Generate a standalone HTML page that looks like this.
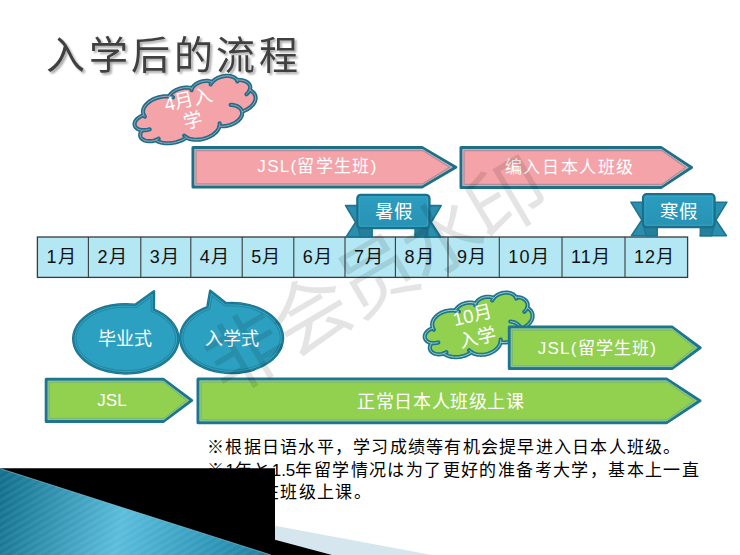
<!DOCTYPE html><html lang="zh-CN"><head><meta charset="utf-8"><style>html,body{margin:0;padding:0;width:740px;height:555px;overflow:hidden;background:#fff;}body{position:relative;font-family:"Liberation Sans",sans-serif;}</style></head><body><svg width="740" height="555" viewBox="0 0 740 555" style="position:absolute;left:0;top:0;font-family:'Liberation Sans',sans-serif"><defs><linearGradient id="rib" x1="0" y1="0" x2="0" y2="1"><stop offset="0" stop-color="#2B9DC0"/><stop offset="1" stop-color="#2892B3"/></linearGradient><linearGradient id="btl" x1="0" y1="0" x2="1" y2="0.35"><stop offset="0" stop-color="#126C8A"/><stop offset="0.6" stop-color="#52B6D6"/><stop offset="1" stop-color="#45AACB"/></linearGradient><pattern id="stripes" width="6" height="6" patternUnits="userSpaceOnUse" patternTransform="rotate(60)"><rect width="3" height="6" fill="rgba(255,255,255,0.06)"/></pattern><filter id="tsh" x="-10%" y="-10%" width="130%" height="140%"><feGaussianBlur in="SourceAlpha" stdDeviation="1.3"/><feOffset dx="2" dy="2"/><feComponentTransfer><feFuncA type="linear" slope="0.35"/></feComponentTransfer><feMerge><feMergeNode/><feMergeNode in="SourceGraphic"/></feMerge></filter></defs><path d="M275,525.7 L432,555 L275,555 Z" fill="#D6E6EE"/><path d="M275,539.7 L332,555 L275,555 Z" fill="#000"/><rect x="0" y="468.5" width="275" height="86.5" fill="#000"/><path d="M0,468.5 L271,555 L0,555 Z" fill="url(#btl)"/><path d="M0,468.5 L271,555 L0,555 Z" fill="url(#stripes)"/><text x="46" y="69" font-size="39" letter-spacing="3.6" fill="#3F3F3F" font-weight="500" filter="url(#tsh)">入学后的流程</text><path d="M193.00,147.50 L422.00,147.50 L455.77,167.20 L422.00,186.90 L193.00,186.90 Z" fill="#F4A3A8" stroke="#1F6F86" stroke-width="3.0" stroke-linejoin="round"/><path d="M195.00,149.50 L422.53,149.50 L451.73,167.20 L422.53,184.90 L195.00,184.90 Z" fill="none" stroke="#A9BDCB" stroke-width="1"/><path d="M196.10,150.60 L422.82,150.60 L449.51,167.20 L422.82,183.80 L196.10,183.80 Z" fill="none" stroke="#B48C97" stroke-width="1.2"/><path d="M461.00,147.50 L660.94,147.50 L691.51,167.50 L660.94,187.50 L461.00,187.50 Z" fill="#F4A3A8" stroke="#1F6F86" stroke-width="3.0" stroke-linejoin="round"/><path d="M463.00,149.50 L661.52,149.50 L687.78,167.50 L661.52,185.50 L463.00,185.50 Z" fill="none" stroke="#A9BDCB" stroke-width="1"/><path d="M464.10,150.60 L661.84,150.60 L685.73,167.50 L661.84,184.40 L464.10,184.40 Z" fill="none" stroke="#B48C97" stroke-width="1.2"/><text x="317.5" y="172" font-size="17" fill="#fff" text-anchor="middle" letter-spacing="1.3">JSL(留学生班)</text><text x="570" y="172.5" font-size="17" fill="#fff" text-anchor="middle" letter-spacing="1.6">编入日本人班级</text><g transform="translate(195.35,111.8) rotate(-14) translate(-62.0,-28.0)"><path d="M11.19,18.63 L11.03,17.52 11.04,16.41 11.22,15.31 11.56,14.22 12.07,13.15 12.73,12.12 13.55,11.13 14.51,10.20 15.62,9.32 16.85,8.51 18.20,7.77 19.65,7.11 21.20,6.54 22.82,6.06 24.52,5.67 26.26,5.38 28.04,5.20 29.84,5.11 31.64,5.13 33.44,5.26 35.21,5.48 36.93,5.81 38.60,6.23 40.20,6.74 L40.80,6.11 41.47,5.51 42.22,4.95 43.03,4.42 43.92,3.93 44.86,3.48 45.85,3.08 46.89,2.73 47.97,2.43 49.09,2.18 50.23,1.99 51.39,1.85 52.57,1.77 53.76,1.74 54.94,1.77 56.12,1.86 57.28,2.00 58.42,2.20 59.54,2.45 60.62,2.75 61.65,3.11 62.64,3.51 63.58,3.96 64.46,4.45 L64.97,3.88 65.56,3.34 66.22,2.83 66.95,2.36 67.73,1.92 68.58,1.53 69.48,1.19 70.42,0.89 71.40,0.64 72.41,0.45 73.44,0.31 74.49,0.22 75.54,0.18 76.60,0.20 77.65,0.28 78.69,0.41 79.70,0.59 80.69,0.83 81.64,1.11 82.55,1.45 83.41,1.83 84.21,2.25 84.96,2.72 85.63,3.22 L86.53,2.63 87.51,2.09 88.57,1.62 89.69,1.20 90.88,0.86 92.11,0.58 93.38,0.38 94.68,0.25 95.99,0.20 97.30,0.22 98.60,0.32 99.88,0.49 101.13,0.73 102.34,1.05 103.49,1.43 104.58,1.88 105.60,2.39 106.53,2.96 107.37,3.58 108.12,4.24 108.75,4.94 109.28,5.68 109.69,6.44 109.99,7.23 L111.03,7.43 112.04,7.67 113.03,7.96 113.98,8.29 114.89,8.66 115.75,9.07 116.56,9.52 117.32,10.00 118.02,10.52 118.66,11.06 119.24,11.63 119.75,12.22 120.19,12.84 120.56,13.47 120.85,14.12 121.07,14.78 121.21,15.44 121.27,16.11 121.25,16.79 121.16,17.45 120.99,18.12 120.75,18.77 120.43,19.41 120.03,20.04 L121.00,20.89 121.85,21.79 122.56,22.73 123.15,23.70 123.59,24.70 123.88,25.72 124.04,26.76 124.04,27.79 123.90,28.83 123.62,29.85 123.19,30.85 122.62,31.83 121.92,32.77 121.08,33.67 120.12,34.53 119.05,35.33 117.86,36.07 116.58,36.74 115.21,37.34 113.75,37.87 112.23,38.32 110.65,38.68 109.02,38.96 107.36,39.15 L107.29,40.05 107.08,40.94 106.75,41.82 106.29,42.68 105.71,43.50 105.02,44.30 104.21,45.05 103.30,45.76 102.29,46.41 101.19,47.01 100.01,47.54 98.75,48.01 97.44,48.41 96.07,48.73 94.66,48.98 93.22,49.16 91.76,49.25 90.30,49.26 88.83,49.20 87.39,49.06 85.96,48.83 84.58,48.54 83.24,48.16 81.97,47.72 L81.36,48.78 80.59,49.80 79.67,50.77 78.60,51.68 77.40,52.53 76.08,53.30 74.65,53.99 73.11,54.60 71.50,55.12 69.80,55.54 68.06,55.86 66.27,56.07 64.45,56.19 62.63,56.19 60.82,56.10 59.02,55.89 57.27,55.59 55.57,55.18 53.94,54.68 52.39,54.08 50.94,53.40 49.60,52.64 48.39,51.80 47.31,50.90 L46.02,51.34 44.69,51.73 43.33,52.06 41.93,52.33 40.50,52.55 39.05,52.71 37.59,52.81 36.13,52.85 34.66,52.83 33.19,52.75 31.74,52.61 30.31,52.41 28.90,52.15 27.52,51.84 26.18,51.47 24.88,51.05 23.63,50.57 22.43,50.04 21.30,49.47 20.22,48.85 19.22,48.19 18.29,47.49 17.43,46.75 16.66,45.98 L15.39,46.03 14.12,46.00 12.86,45.90 11.63,45.71 10.43,45.45 9.28,45.12 8.19,44.71 7.17,44.25 6.24,43.72 5.40,43.13 4.66,42.50 4.03,41.82 3.52,41.11 3.12,40.36 2.85,39.60 2.71,38.83 2.70,38.05 2.82,37.27 3.06,36.51 3.43,35.76 3.92,35.04 4.53,34.36 5.25,33.71 6.07,33.12 L4.98,32.68 3.97,32.16 3.05,31.59 2.24,30.96 1.54,30.29 0.95,29.57 0.49,28.81 0.16,28.03 -0.04,27.24 -0.10,26.43 -0.03,25.63 0.18,24.84 0.52,24.06 0.99,23.31 1.59,22.59 2.30,21.92 3.13,21.29 4.05,20.73 5.07,20.22 6.16,19.78 7.32,19.42 8.54,19.13 9.80,18.93 11.09,18.80 Z" fill="#F4A3A8" stroke="#1F6F86" stroke-width="4.2" stroke-linejoin="round"/><path d="M13.47,33.93 L12.84,33.95 12.21,33.95 11.58,33.94 10.95,33.90 10.33,33.84 9.71,33.76 9.10,33.66 8.49,33.55 7.90,33.41 7.32,33.26 6.75,33.09 6.20,32.90 M19.89,45.24 L19.63,45.30 19.37,45.36 19.11,45.41 18.85,45.46 18.59,45.51 18.32,45.55 18.06,45.59 17.79,45.63 17.52,45.66 17.25,45.69 16.98,45.71 16.70,45.73 M47.30,50.67 L47.11,50.49 46.92,50.31 46.75,50.13 46.57,49.95 46.40,49.76 46.24,49.58 46.08,49.39 45.93,49.20 45.79,49.00 45.65,48.81 45.51,48.61 45.38,48.42 M82.74,45.05 L82.71,45.26 82.68,45.47 82.63,45.67 82.58,45.88 82.53,46.09 82.47,46.30 82.40,46.50 82.33,46.71 82.25,46.91 82.17,47.12 82.07,47.32 81.98,47.52 M97.96,29.76 L99.33,30.21 100.62,30.75 101.82,31.36 102.93,32.03 103.92,32.76 104.81,33.55 105.56,34.39 106.19,35.26 106.68,36.17 107.03,37.10 107.24,38.05 107.30,39.01 M119.98,19.90 L119.73,20.23 119.47,20.56 119.19,20.88 118.89,21.19 118.56,21.49 118.22,21.79 117.87,22.07 117.49,22.35 117.10,22.62 116.69,22.88 116.26,23.13 115.82,23.37 M110.00,7.03 L110.04,7.17 110.08,7.30 110.11,7.44 110.13,7.58 110.16,7.71 110.18,7.85 110.19,7.99 110.21,8.12 110.22,8.26 110.22,8.40 110.22,8.53 110.22,8.67 M83.46,5.12 L83.60,4.94 83.75,4.75 83.90,4.57 84.06,4.39 84.23,4.21 84.41,4.03 84.59,3.86 84.78,3.69 84.97,3.52 85.17,3.35 85.38,3.19 85.59,3.03 M63.55,6.12 L63.61,5.96 63.67,5.81 63.74,5.65 63.82,5.50 63.89,5.35 63.98,5.20 64.07,5.05 64.16,4.90 64.26,4.75 64.36,4.61 64.47,4.46 64.58,4.32 M40.19,6.73 L40.52,6.85 40.85,6.98 41.18,7.11 41.50,7.25 41.82,7.39 42.14,7.53 42.45,7.68 42.75,7.83 43.05,7.99 43.34,8.15 43.63,8.31 43.92,8.48 M11.85,20.47 L11.77,20.32 11.70,20.17 11.64,20.01 11.58,19.86 11.52,19.71 11.46,19.56 11.41,19.40 11.36,19.25 11.31,19.09 11.27,18.94 11.23,18.78 11.19,18.63 " fill="none" stroke="#1F6F86" stroke-width="4.2" stroke-linecap="round"/><path d="M11.19,18.63 L11.03,17.52 11.04,16.41 11.22,15.31 11.56,14.22 12.07,13.15 12.73,12.12 13.55,11.13 14.51,10.20 15.62,9.32 16.85,8.51 18.20,7.77 19.65,7.11 21.20,6.54 22.82,6.06 24.52,5.67 26.26,5.38 28.04,5.20 29.84,5.11 31.64,5.13 33.44,5.26 35.21,5.48 36.93,5.81 38.60,6.23 40.20,6.74 L40.80,6.11 41.47,5.51 42.22,4.95 43.03,4.42 43.92,3.93 44.86,3.48 45.85,3.08 46.89,2.73 47.97,2.43 49.09,2.18 50.23,1.99 51.39,1.85 52.57,1.77 53.76,1.74 54.94,1.77 56.12,1.86 57.28,2.00 58.42,2.20 59.54,2.45 60.62,2.75 61.65,3.11 62.64,3.51 63.58,3.96 64.46,4.45 L64.97,3.88 65.56,3.34 66.22,2.83 66.95,2.36 67.73,1.92 68.58,1.53 69.48,1.19 70.42,0.89 71.40,0.64 72.41,0.45 73.44,0.31 74.49,0.22 75.54,0.18 76.60,0.20 77.65,0.28 78.69,0.41 79.70,0.59 80.69,0.83 81.64,1.11 82.55,1.45 83.41,1.83 84.21,2.25 84.96,2.72 85.63,3.22 L86.53,2.63 87.51,2.09 88.57,1.62 89.69,1.20 90.88,0.86 92.11,0.58 93.38,0.38 94.68,0.25 95.99,0.20 97.30,0.22 98.60,0.32 99.88,0.49 101.13,0.73 102.34,1.05 103.49,1.43 104.58,1.88 105.60,2.39 106.53,2.96 107.37,3.58 108.12,4.24 108.75,4.94 109.28,5.68 109.69,6.44 109.99,7.23 L111.03,7.43 112.04,7.67 113.03,7.96 113.98,8.29 114.89,8.66 115.75,9.07 116.56,9.52 117.32,10.00 118.02,10.52 118.66,11.06 119.24,11.63 119.75,12.22 120.19,12.84 120.56,13.47 120.85,14.12 121.07,14.78 121.21,15.44 121.27,16.11 121.25,16.79 121.16,17.45 120.99,18.12 120.75,18.77 120.43,19.41 120.03,20.04 L121.00,20.89 121.85,21.79 122.56,22.73 123.15,23.70 123.59,24.70 123.88,25.72 124.04,26.76 124.04,27.79 123.90,28.83 123.62,29.85 123.19,30.85 122.62,31.83 121.92,32.77 121.08,33.67 120.12,34.53 119.05,35.33 117.86,36.07 116.58,36.74 115.21,37.34 113.75,37.87 112.23,38.32 110.65,38.68 109.02,38.96 107.36,39.15 L107.29,40.05 107.08,40.94 106.75,41.82 106.29,42.68 105.71,43.50 105.02,44.30 104.21,45.05 103.30,45.76 102.29,46.41 101.19,47.01 100.01,47.54 98.75,48.01 97.44,48.41 96.07,48.73 94.66,48.98 93.22,49.16 91.76,49.25 90.30,49.26 88.83,49.20 87.39,49.06 85.96,48.83 84.58,48.54 83.24,48.16 81.97,47.72 L81.36,48.78 80.59,49.80 79.67,50.77 78.60,51.68 77.40,52.53 76.08,53.30 74.65,53.99 73.11,54.60 71.50,55.12 69.80,55.54 68.06,55.86 66.27,56.07 64.45,56.19 62.63,56.19 60.82,56.10 59.02,55.89 57.27,55.59 55.57,55.18 53.94,54.68 52.39,54.08 50.94,53.40 49.60,52.64 48.39,51.80 47.31,50.90 L46.02,51.34 44.69,51.73 43.33,52.06 41.93,52.33 40.50,52.55 39.05,52.71 37.59,52.81 36.13,52.85 34.66,52.83 33.19,52.75 31.74,52.61 30.31,52.41 28.90,52.15 27.52,51.84 26.18,51.47 24.88,51.05 23.63,50.57 22.43,50.04 21.30,49.47 20.22,48.85 19.22,48.19 18.29,47.49 17.43,46.75 16.66,45.98 L15.39,46.03 14.12,46.00 12.86,45.90 11.63,45.71 10.43,45.45 9.28,45.12 8.19,44.71 7.17,44.25 6.24,43.72 5.40,43.13 4.66,42.50 4.03,41.82 3.52,41.11 3.12,40.36 2.85,39.60 2.71,38.83 2.70,38.05 2.82,37.27 3.06,36.51 3.43,35.76 3.92,35.04 4.53,34.36 5.25,33.71 6.07,33.12 L4.98,32.68 3.97,32.16 3.05,31.59 2.24,30.96 1.54,30.29 0.95,29.57 0.49,28.81 0.16,28.03 -0.04,27.24 -0.10,26.43 -0.03,25.63 0.18,24.84 0.52,24.06 0.99,23.31 1.59,22.59 2.30,21.92 3.13,21.29 4.05,20.73 5.07,20.22 6.16,19.78 7.32,19.42 8.54,19.13 9.80,18.93 11.09,18.80 Z" fill="none" stroke="#B5A3C2" stroke-width="0.9"/><path d="M13.47,33.93 L12.84,33.95 12.21,33.95 11.58,33.94 10.95,33.90 10.33,33.84 9.71,33.76 9.10,33.66 8.49,33.55 7.90,33.41 7.32,33.26 6.75,33.09 6.20,32.90 M19.89,45.24 L19.63,45.30 19.37,45.36 19.11,45.41 18.85,45.46 18.59,45.51 18.32,45.55 18.06,45.59 17.79,45.63 17.52,45.66 17.25,45.69 16.98,45.71 16.70,45.73 M47.30,50.67 L47.11,50.49 46.92,50.31 46.75,50.13 46.57,49.95 46.40,49.76 46.24,49.58 46.08,49.39 45.93,49.20 45.79,49.00 45.65,48.81 45.51,48.61 45.38,48.42 M82.74,45.05 L82.71,45.26 82.68,45.47 82.63,45.67 82.58,45.88 82.53,46.09 82.47,46.30 82.40,46.50 82.33,46.71 82.25,46.91 82.17,47.12 82.07,47.32 81.98,47.52 M97.96,29.76 L99.33,30.21 100.62,30.75 101.82,31.36 102.93,32.03 103.92,32.76 104.81,33.55 105.56,34.39 106.19,35.26 106.68,36.17 107.03,37.10 107.24,38.05 107.30,39.01 M119.98,19.90 L119.73,20.23 119.47,20.56 119.19,20.88 118.89,21.19 118.56,21.49 118.22,21.79 117.87,22.07 117.49,22.35 117.10,22.62 116.69,22.88 116.26,23.13 115.82,23.37 M110.00,7.03 L110.04,7.17 110.08,7.30 110.11,7.44 110.13,7.58 110.16,7.71 110.18,7.85 110.19,7.99 110.21,8.12 110.22,8.26 110.22,8.40 110.22,8.53 110.22,8.67 M83.46,5.12 L83.60,4.94 83.75,4.75 83.90,4.57 84.06,4.39 84.23,4.21 84.41,4.03 84.59,3.86 84.78,3.69 84.97,3.52 85.17,3.35 85.38,3.19 85.59,3.03 M63.55,6.12 L63.61,5.96 63.67,5.81 63.74,5.65 63.82,5.50 63.89,5.35 63.98,5.20 64.07,5.05 64.16,4.90 64.26,4.75 64.36,4.61 64.47,4.46 64.58,4.32 M40.19,6.73 L40.52,6.85 40.85,6.98 41.18,7.11 41.50,7.25 41.82,7.39 42.14,7.53 42.45,7.68 42.75,7.83 43.05,7.99 43.34,8.15 43.63,8.31 43.92,8.48 M11.85,20.47 L11.77,20.32 11.70,20.17 11.64,20.01 11.58,19.86 11.52,19.71 11.46,19.56 11.41,19.40 11.36,19.25 11.31,19.09 11.27,18.94 11.23,18.78 11.19,18.63 " fill="none" stroke="#B5A3C2" stroke-width="0.9"/></g><g transform="translate(190.5,109.1) rotate(-13)"><text x="0" y="-3.5" font-size="19" font-weight="350" fill="#fff" text-anchor="middle">4月入</text><text x="0" y="18" font-size="19" font-weight="350" fill="#fff" text-anchor="middle">学</text></g><rect x="37.4" y="237" width="650.2" height="40.39999999999998" fill="#B3E7F3" stroke="#3A3A3A" stroke-width="1.3"/><line x1="88.4" y1="237" x2="88.4" y2="277.4" stroke="#3A3A3A" stroke-width="1.1"/><line x1="140.8" y1="237" x2="140.8" y2="277.4" stroke="#3A3A3A" stroke-width="1.1"/><line x1="190.8" y1="237" x2="190.8" y2="277.4" stroke="#3A3A3A" stroke-width="1.1"/><line x1="242.2" y1="237" x2="242.2" y2="277.4" stroke="#3A3A3A" stroke-width="1.1"/><line x1="293.8" y1="237" x2="293.8" y2="277.4" stroke="#3A3A3A" stroke-width="1.1"/><line x1="345" y1="237" x2="345" y2="277.4" stroke="#3A3A3A" stroke-width="1.1"/><line x1="395.4" y1="237" x2="395.4" y2="277.4" stroke="#3A3A3A" stroke-width="1.1"/><line x1="448" y1="237" x2="448" y2="277.4" stroke="#3A3A3A" stroke-width="1.1"/><line x1="499.3" y1="237" x2="499.3" y2="277.4" stroke="#3A3A3A" stroke-width="1.1"/><line x1="562" y1="237" x2="562" y2="277.4" stroke="#3A3A3A" stroke-width="1.1"/><line x1="625" y1="237" x2="625" y2="277.4" stroke="#3A3A3A" stroke-width="1.1"/><text x="46.4" y="263" font-size="18" fill="#111" font-weight="500" letter-spacing="1.1">1月</text><text x="97.4" y="263" font-size="18" fill="#111" font-weight="500" letter-spacing="1.1">2月</text><text x="149.8" y="263" font-size="18" fill="#111" font-weight="500" letter-spacing="1.1">3月</text><text x="199.8" y="263" font-size="18" fill="#111" font-weight="500" letter-spacing="1.1">4月</text><text x="251.2" y="263" font-size="18" fill="#111" font-weight="500" letter-spacing="1.1">5月</text><text x="302.8" y="263" font-size="18" fill="#111" font-weight="500" letter-spacing="1.1">6月</text><text x="354" y="263" font-size="18" fill="#111" font-weight="500" letter-spacing="1.1">7月</text><text x="404.4" y="263" font-size="18" fill="#111" font-weight="500" letter-spacing="1.1">8月</text><text x="457" y="263" font-size="18" fill="#111" font-weight="500" letter-spacing="1.1">9月</text><text x="508.3" y="263" font-size="18" fill="#111" font-weight="500" letter-spacing="1.1">10月</text><text x="571" y="263" font-size="18" fill="#111" font-weight="500" letter-spacing="1.1">11月</text><text x="634" y="263" font-size="18" fill="#111" font-weight="500" letter-spacing="1.1">12月</text><path d="M345.6,205.6 L365.3,205.6 L372.2,236.9 L346.1,236.9 L355.6,222.25 Z" fill="#2A8FAE" stroke="#1D7593" stroke-width="1.6" stroke-linejoin="round"/><path d="M441.2,205.6 L421.5,205.6 L415,236.9 L440.7,236.9 L431.2,222.25 Z" fill="#2A8FAE" stroke="#1D7593" stroke-width="1.6" stroke-linejoin="round"/><path d="M357.3,224.2 L372.2,224.2 L372.2,236.9 L360.3,236.9 Z" fill="#237F9C" stroke="#1D7593" stroke-width="1.4" stroke-linejoin="round"/><path d="M429.5,224.2 L415,224.2 L415,236.9 L426.5,236.9 Z" fill="#237F9C" stroke="#1D7593" stroke-width="1.4" stroke-linejoin="round"/><rect x="357.3" y="194.8" width="72.19999999999999" height="33.39999999999998" rx="3.5" fill="url(#rib)" stroke="#1A6F8A" stroke-width="2.2"/><rect x="359.3" y="196.8" width="68.19999999999999" height="29.399999999999977" rx="2" fill="none" stroke="#3AACCD" stroke-width="0.8" opacity="0.8"/><text x="393.5" y="217.5" font-size="18.5" fill="#fff" text-anchor="middle" font-weight="500">暑假</text><path d="M630.9,202.2 L651,202.2 L657.3,235.8 L631.4,235.8 L641.9,220.0 Z" fill="#2A8FAE" stroke="#1D7593" stroke-width="1.6" stroke-linejoin="round"/><path d="M726.9,202.2 L706.6,202.2 L700.3,235.8 L726.4,235.8 L715.9,220.0 Z" fill="#2A8FAE" stroke="#1D7593" stroke-width="1.6" stroke-linejoin="round"/><path d="M643,223.2 L657.3,223.2 L657.3,235.8 L646,235.8 Z" fill="#237F9C" stroke="#1D7593" stroke-width="1.4" stroke-linejoin="round"/><path d="M714.6,223.2 L700.3,223.2 L700.3,235.8 L711.6,235.8 Z" fill="#237F9C" stroke="#1D7593" stroke-width="1.4" stroke-linejoin="round"/><rect x="643" y="194.2" width="71.60000000000002" height="33.0" rx="3.5" fill="url(#rib)" stroke="#1A6F8A" stroke-width="2.2"/><rect x="645" y="196.2" width="67.60000000000002" height="29.0" rx="2" fill="none" stroke="#3AACCD" stroke-width="0.8" opacity="0.8"/><text x="679" y="217.5" font-size="18.5" fill="#fff" text-anchor="middle" font-weight="500">寒假</text><clipPath id="bc1"><path d="M153.90,309.55 A52.6,34.6 0 1 1 135.20,304.76 L154,291.2 Z"/></clipPath><path d="M153.90,309.55 A52.6,34.6 0 1 1 135.20,304.76 L154,291.2 Z" fill="#2CA0C0" stroke="#1B7690" stroke-width="2.5" stroke-linejoin="round"/><path d="M153.90,309.55 A52.6,34.6 0 1 1 135.20,304.76 L154,291.2 Z" fill="none" stroke="#2388A6" stroke-width="6.6" stroke-linejoin="round" clip-path="url(#bc1)"/><path d="M153.90,309.55 A52.6,34.6 0 1 1 135.20,304.76 L154,291.2 Z" fill="none" stroke="#35A5C4" stroke-width="4.4" stroke-linejoin="round" clip-path="url(#bc1)"/><path d="M153.90,309.55 A52.6,34.6 0 1 1 135.20,304.76 L154,291.2 Z" fill="none" stroke="#1B7690" stroke-width="2.5" stroke-linejoin="round" clip-path="url(#bc1)"/><text x="125" y="345" font-size="18" fill="#fff" text-anchor="middle">毕业式</text><clipPath id="bc2"><path d="M226.09,303.20 A51.4,35 0 1 1 207.34,307.14 L210.2,290.8 Z"/></clipPath><path d="M226.09,303.20 A51.4,35 0 1 1 207.34,307.14 L210.2,290.8 Z" fill="#2CA0C0" stroke="#1B7690" stroke-width="2.5" stroke-linejoin="round"/><path d="M226.09,303.20 A51.4,35 0 1 1 207.34,307.14 L210.2,290.8 Z" fill="none" stroke="#2388A6" stroke-width="6.6" stroke-linejoin="round" clip-path="url(#bc2)"/><path d="M226.09,303.20 A51.4,35 0 1 1 207.34,307.14 L210.2,290.8 Z" fill="none" stroke="#35A5C4" stroke-width="4.4" stroke-linejoin="round" clip-path="url(#bc2)"/><path d="M226.09,303.20 A51.4,35 0 1 1 207.34,307.14 L210.2,290.8 Z" fill="none" stroke="#1B7690" stroke-width="2.5" stroke-linejoin="round" clip-path="url(#bc2)"/><text x="232" y="345" font-size="18" fill="#fff" text-anchor="middle">入学式</text><g transform="translate(478.9,327) rotate(-13) translate(-55.0,-28.0)"><path d="M9.93,18.63 L9.79,17.52 9.80,16.41 9.95,15.31 10.26,14.22 10.70,13.15 11.29,12.12 12.02,11.13 12.88,10.20 13.85,9.32 14.95,8.51 16.14,7.77 17.43,7.11 18.80,6.54 20.25,6.06 21.75,5.67 23.29,5.38 24.87,5.20 26.47,5.11 28.07,5.13 29.66,5.26 31.23,5.48 32.76,5.81 34.24,6.23 35.66,6.74 L36.19,6.11 36.79,5.51 37.45,4.95 38.18,4.42 38.96,3.93 39.79,3.48 40.67,3.08 41.59,2.73 42.55,2.43 43.54,2.18 44.56,1.99 45.59,1.85 46.64,1.77 47.69,1.74 48.74,1.77 49.78,1.86 50.82,2.00 51.83,2.20 52.82,2.45 53.77,2.75 54.69,3.11 55.57,3.51 56.40,3.96 57.18,4.45 L57.63,3.88 58.16,3.34 58.74,2.83 59.39,2.36 60.09,1.92 60.84,1.53 61.63,1.19 62.47,0.89 63.34,0.64 64.23,0.45 65.15,0.31 66.08,0.22 67.02,0.18 67.95,0.20 68.89,0.28 69.81,0.41 70.71,0.59 71.58,0.83 72.42,1.11 73.23,1.45 73.99,1.83 74.70,2.25 75.36,2.72 75.96,3.22 L76.76,2.63 77.63,2.09 78.57,1.62 79.57,1.20 80.62,0.86 81.71,0.58 82.84,0.38 83.99,0.25 85.15,0.20 86.31,0.22 87.47,0.32 88.61,0.49 89.72,0.73 90.79,1.05 91.81,1.43 92.78,1.88 93.68,2.39 94.50,2.96 95.25,3.58 95.91,4.24 96.48,4.94 96.94,5.68 97.31,6.44 97.57,7.23 L98.49,7.43 99.39,7.67 100.27,7.96 101.11,8.29 101.91,8.66 102.68,9.07 103.40,9.52 104.08,10.00 104.70,10.52 105.27,11.06 105.78,11.63 106.23,12.22 106.62,12.84 106.94,13.47 107.20,14.12 107.40,14.78 107.52,15.44 107.58,16.11 107.56,16.79 107.48,17.45 107.33,18.12 107.12,18.77 106.83,19.41 106.48,20.04 L107.34,20.89 108.09,21.79 108.73,22.73 109.24,23.70 109.63,24.70 109.90,25.72 110.03,26.76 110.04,27.79 109.91,28.83 109.66,29.85 109.28,30.85 108.78,31.83 108.15,32.77 107.41,33.67 106.56,34.53 105.61,35.33 104.56,36.07 103.42,36.74 102.20,37.34 100.91,37.87 99.56,38.32 98.16,38.68 96.71,38.96 95.24,39.15 L95.17,40.05 94.99,40.94 94.70,41.82 94.29,42.68 93.78,43.50 93.16,44.30 92.44,45.05 91.64,45.76 90.74,46.41 89.76,47.01 88.72,47.54 87.61,48.01 86.44,48.41 85.22,48.73 83.97,48.98 82.70,49.16 81.40,49.25 80.10,49.26 78.80,49.20 77.52,49.06 76.26,48.83 75.03,48.54 73.85,48.16 72.71,47.72 L72.17,48.78 71.49,49.80 70.67,50.77 69.73,51.68 68.67,52.53 67.49,53.30 66.22,53.99 64.86,54.60 63.42,55.12 61.92,55.54 60.37,55.86 58.79,56.07 57.18,56.19 55.56,56.19 53.95,56.10 52.36,55.89 50.80,55.59 49.29,55.18 47.85,54.68 46.48,54.08 45.19,53.40 44.00,52.64 42.93,51.80 41.96,50.90 L40.83,51.34 39.65,51.73 38.43,52.06 37.19,52.33 35.93,52.55 34.64,52.71 33.35,52.81 32.05,52.85 30.74,52.83 29.45,52.75 28.16,52.61 26.89,52.41 25.64,52.15 24.41,51.84 23.22,51.47 22.07,51.05 20.96,50.57 19.90,50.04 18.89,49.47 17.94,48.85 17.05,48.19 16.22,47.49 15.47,46.75 14.78,45.98 L13.66,46.03 12.53,46.00 11.41,45.90 10.31,45.71 9.25,45.45 8.23,45.12 7.27,44.71 6.36,44.25 5.54,43.72 4.79,43.13 4.14,42.50 3.58,41.82 3.12,41.11 2.77,40.36 2.53,39.60 2.41,38.83 2.39,38.05 2.50,37.27 2.71,36.51 3.04,35.76 3.48,35.04 4.02,34.36 4.65,33.71 5.38,33.12 L4.42,32.68 3.52,32.16 2.71,31.59 1.99,30.96 1.36,30.29 0.84,29.57 0.43,28.81 0.14,28.03 -0.04,27.24 -0.09,26.43 -0.03,25.63 0.16,24.84 0.46,24.06 0.88,23.31 1.41,22.59 2.04,21.92 2.77,21.29 3.59,20.73 4.50,20.22 5.47,19.78 6.50,19.42 7.58,19.13 8.70,18.93 9.84,18.80 Z" fill="#92D050" stroke="#1E7590" stroke-width="4.2" stroke-linejoin="round"/><path d="M11.95,33.93 L11.39,33.95 10.83,33.95 10.27,33.94 9.71,33.90 9.16,33.84 8.61,33.76 8.07,33.66 7.53,33.55 7.01,33.41 6.49,33.26 5.99,33.09 5.50,32.90 M17.64,45.24 L17.41,45.30 17.18,45.36 16.95,45.41 16.72,45.46 16.49,45.51 16.25,45.55 16.02,45.59 15.78,45.63 15.54,45.66 15.30,45.69 15.06,45.71 14.82,45.73 M41.96,50.67 L41.79,50.49 41.63,50.31 41.47,50.13 41.31,49.95 41.17,49.76 41.02,49.58 40.88,49.39 40.75,49.20 40.62,49.00 40.49,48.81 40.37,48.61 40.26,48.42 M73.40,45.05 L73.37,45.26 73.34,45.47 73.30,45.67 73.26,45.88 73.21,46.09 73.16,46.30 73.10,46.50 73.03,46.71 72.96,46.91 72.89,47.12 72.81,47.32 72.72,47.52 M86.90,29.76 L88.11,30.21 89.26,30.75 90.33,31.36 91.31,32.03 92.19,32.76 92.97,33.55 93.64,34.39 94.20,35.26 94.64,36.17 94.95,37.10 95.13,38.05 95.18,39.01 M106.43,19.90 L106.22,20.23 105.98,20.56 105.73,20.88 105.46,21.19 105.18,21.49 104.88,21.79 104.56,22.07 104.22,22.35 103.88,22.62 103.51,22.88 103.13,23.13 102.74,23.37 M97.58,7.03 L97.62,7.17 97.65,7.30 97.68,7.44 97.70,7.58 97.72,7.71 97.74,7.85 97.75,7.99 97.76,8.12 97.77,8.26 97.78,8.40 97.78,8.53 97.78,8.67 M74.04,5.12 L74.16,4.94 74.29,4.75 74.43,4.57 74.57,4.39 74.72,4.21 74.88,4.03 75.04,3.86 75.20,3.69 75.38,3.52 75.56,3.35 75.74,3.19 75.93,3.03 M56.38,6.12 L56.43,5.96 56.48,5.81 56.55,5.65 56.61,5.50 56.68,5.35 56.75,5.20 56.83,5.05 56.92,4.90 57.00,4.75 57.10,4.61 57.19,4.46 57.29,4.32 M35.65,6.73 L35.95,6.85 36.24,6.98 36.53,7.11 36.82,7.25 37.10,7.39 37.38,7.53 37.65,7.68 37.92,7.83 38.19,7.99 38.45,8.15 38.71,8.31 38.96,8.48 M10.51,20.47 L10.44,20.32 10.38,20.17 10.32,20.01 10.27,19.86 10.22,19.71 10.17,19.56 10.12,19.40 10.08,19.25 10.04,19.09 10.00,18.94 9.96,18.78 9.93,18.63 " fill="none" stroke="#1E7590" stroke-width="4.2" stroke-linecap="round"/><path d="M9.93,18.63 L9.79,17.52 9.80,16.41 9.95,15.31 10.26,14.22 10.70,13.15 11.29,12.12 12.02,11.13 12.88,10.20 13.85,9.32 14.95,8.51 16.14,7.77 17.43,7.11 18.80,6.54 20.25,6.06 21.75,5.67 23.29,5.38 24.87,5.20 26.47,5.11 28.07,5.13 29.66,5.26 31.23,5.48 32.76,5.81 34.24,6.23 35.66,6.74 L36.19,6.11 36.79,5.51 37.45,4.95 38.18,4.42 38.96,3.93 39.79,3.48 40.67,3.08 41.59,2.73 42.55,2.43 43.54,2.18 44.56,1.99 45.59,1.85 46.64,1.77 47.69,1.74 48.74,1.77 49.78,1.86 50.82,2.00 51.83,2.20 52.82,2.45 53.77,2.75 54.69,3.11 55.57,3.51 56.40,3.96 57.18,4.45 L57.63,3.88 58.16,3.34 58.74,2.83 59.39,2.36 60.09,1.92 60.84,1.53 61.63,1.19 62.47,0.89 63.34,0.64 64.23,0.45 65.15,0.31 66.08,0.22 67.02,0.18 67.95,0.20 68.89,0.28 69.81,0.41 70.71,0.59 71.58,0.83 72.42,1.11 73.23,1.45 73.99,1.83 74.70,2.25 75.36,2.72 75.96,3.22 L76.76,2.63 77.63,2.09 78.57,1.62 79.57,1.20 80.62,0.86 81.71,0.58 82.84,0.38 83.99,0.25 85.15,0.20 86.31,0.22 87.47,0.32 88.61,0.49 89.72,0.73 90.79,1.05 91.81,1.43 92.78,1.88 93.68,2.39 94.50,2.96 95.25,3.58 95.91,4.24 96.48,4.94 96.94,5.68 97.31,6.44 97.57,7.23 L98.49,7.43 99.39,7.67 100.27,7.96 101.11,8.29 101.91,8.66 102.68,9.07 103.40,9.52 104.08,10.00 104.70,10.52 105.27,11.06 105.78,11.63 106.23,12.22 106.62,12.84 106.94,13.47 107.20,14.12 107.40,14.78 107.52,15.44 107.58,16.11 107.56,16.79 107.48,17.45 107.33,18.12 107.12,18.77 106.83,19.41 106.48,20.04 L107.34,20.89 108.09,21.79 108.73,22.73 109.24,23.70 109.63,24.70 109.90,25.72 110.03,26.76 110.04,27.79 109.91,28.83 109.66,29.85 109.28,30.85 108.78,31.83 108.15,32.77 107.41,33.67 106.56,34.53 105.61,35.33 104.56,36.07 103.42,36.74 102.20,37.34 100.91,37.87 99.56,38.32 98.16,38.68 96.71,38.96 95.24,39.15 L95.17,40.05 94.99,40.94 94.70,41.82 94.29,42.68 93.78,43.50 93.16,44.30 92.44,45.05 91.64,45.76 90.74,46.41 89.76,47.01 88.72,47.54 87.61,48.01 86.44,48.41 85.22,48.73 83.97,48.98 82.70,49.16 81.40,49.25 80.10,49.26 78.80,49.20 77.52,49.06 76.26,48.83 75.03,48.54 73.85,48.16 72.71,47.72 L72.17,48.78 71.49,49.80 70.67,50.77 69.73,51.68 68.67,52.53 67.49,53.30 66.22,53.99 64.86,54.60 63.42,55.12 61.92,55.54 60.37,55.86 58.79,56.07 57.18,56.19 55.56,56.19 53.95,56.10 52.36,55.89 50.80,55.59 49.29,55.18 47.85,54.68 46.48,54.08 45.19,53.40 44.00,52.64 42.93,51.80 41.96,50.90 L40.83,51.34 39.65,51.73 38.43,52.06 37.19,52.33 35.93,52.55 34.64,52.71 33.35,52.81 32.05,52.85 30.74,52.83 29.45,52.75 28.16,52.61 26.89,52.41 25.64,52.15 24.41,51.84 23.22,51.47 22.07,51.05 20.96,50.57 19.90,50.04 18.89,49.47 17.94,48.85 17.05,48.19 16.22,47.49 15.47,46.75 14.78,45.98 L13.66,46.03 12.53,46.00 11.41,45.90 10.31,45.71 9.25,45.45 8.23,45.12 7.27,44.71 6.36,44.25 5.54,43.72 4.79,43.13 4.14,42.50 3.58,41.82 3.12,41.11 2.77,40.36 2.53,39.60 2.41,38.83 2.39,38.05 2.50,37.27 2.71,36.51 3.04,35.76 3.48,35.04 4.02,34.36 4.65,33.71 5.38,33.12 L4.42,32.68 3.52,32.16 2.71,31.59 1.99,30.96 1.36,30.29 0.84,29.57 0.43,28.81 0.14,28.03 -0.04,27.24 -0.09,26.43 -0.03,25.63 0.16,24.84 0.46,24.06 0.88,23.31 1.41,22.59 2.04,21.92 2.77,21.29 3.59,20.73 4.50,20.22 5.47,19.78 6.50,19.42 7.58,19.13 8.70,18.93 9.84,18.80 Z" fill="none" stroke="#A8D8C8" stroke-width="0.9"/><path d="M11.95,33.93 L11.39,33.95 10.83,33.95 10.27,33.94 9.71,33.90 9.16,33.84 8.61,33.76 8.07,33.66 7.53,33.55 7.01,33.41 6.49,33.26 5.99,33.09 5.50,32.90 M17.64,45.24 L17.41,45.30 17.18,45.36 16.95,45.41 16.72,45.46 16.49,45.51 16.25,45.55 16.02,45.59 15.78,45.63 15.54,45.66 15.30,45.69 15.06,45.71 14.82,45.73 M41.96,50.67 L41.79,50.49 41.63,50.31 41.47,50.13 41.31,49.95 41.17,49.76 41.02,49.58 40.88,49.39 40.75,49.20 40.62,49.00 40.49,48.81 40.37,48.61 40.26,48.42 M73.40,45.05 L73.37,45.26 73.34,45.47 73.30,45.67 73.26,45.88 73.21,46.09 73.16,46.30 73.10,46.50 73.03,46.71 72.96,46.91 72.89,47.12 72.81,47.32 72.72,47.52 M86.90,29.76 L88.11,30.21 89.26,30.75 90.33,31.36 91.31,32.03 92.19,32.76 92.97,33.55 93.64,34.39 94.20,35.26 94.64,36.17 94.95,37.10 95.13,38.05 95.18,39.01 M106.43,19.90 L106.22,20.23 105.98,20.56 105.73,20.88 105.46,21.19 105.18,21.49 104.88,21.79 104.56,22.07 104.22,22.35 103.88,22.62 103.51,22.88 103.13,23.13 102.74,23.37 M97.58,7.03 L97.62,7.17 97.65,7.30 97.68,7.44 97.70,7.58 97.72,7.71 97.74,7.85 97.75,7.99 97.76,8.12 97.77,8.26 97.78,8.40 97.78,8.53 97.78,8.67 M74.04,5.12 L74.16,4.94 74.29,4.75 74.43,4.57 74.57,4.39 74.72,4.21 74.88,4.03 75.04,3.86 75.20,3.69 75.38,3.52 75.56,3.35 75.74,3.19 75.93,3.03 M56.38,6.12 L56.43,5.96 56.48,5.81 56.55,5.65 56.61,5.50 56.68,5.35 56.75,5.20 56.83,5.05 56.92,4.90 57.00,4.75 57.10,4.61 57.19,4.46 57.29,4.32 M35.65,6.73 L35.95,6.85 36.24,6.98 36.53,7.11 36.82,7.25 37.10,7.39 37.38,7.53 37.65,7.68 37.92,7.83 38.19,7.99 38.45,8.15 38.71,8.31 38.96,8.48 M10.51,20.47 L10.44,20.32 10.38,20.17 10.32,20.01 10.27,19.86 10.22,19.71 10.17,19.56 10.12,19.40 10.08,19.25 10.04,19.09 10.00,18.94 9.96,18.78 9.93,18.63 " fill="none" stroke="#A8D8C8" stroke-width="0.9"/></g><g transform="translate(475,326) rotate(-13)"><text x="0" y="-4.5" font-size="18.5" fill="#fff" text-anchor="middle">10月</text><text x="0" y="18" font-size="18.5" fill="#fff" text-anchor="middle">入学</text></g><path d="M46.20,379.30 L163.18,379.30 L191.72,400.40 L163.18,421.50 L46.20,421.50 Z" fill="#92D050" stroke="#1E7590" stroke-width="3.0" stroke-linejoin="round"/><path d="M48.20,381.30 L163.82,381.30 L188.28,400.40 L163.82,419.50 L48.20,419.50 Z" fill="none" stroke="#86C1B0" stroke-width="1"/><path d="M49.30,382.40 L164.18,382.40 L186.39,400.40 L164.18,418.40 L49.30,418.40 Z" fill="none" stroke="#7DBB6A" stroke-width="1.2"/><path d="M198.00,379.00 L666.44,379.00 L699.91,400.85 L666.44,422.70 L198.00,422.70 Z" fill="#92D050" stroke="#1E7590" stroke-width="3.0" stroke-linejoin="round"/><path d="M200.00,381.00 L667.02,381.00 L696.18,400.85 L667.02,420.70 L200.00,420.70 Z" fill="none" stroke="#86C1B0" stroke-width="1"/><path d="M201.10,382.10 L667.34,382.10 L694.13,400.85 L667.34,419.60 L201.10,419.60 Z" fill="none" stroke="#7DBB6A" stroke-width="1.2"/><path d="M509.30,327.00 L671.88,327.00 L700.11,347.80 L671.88,368.60 L509.30,368.60 Z" fill="#92D050" stroke="#1E7590" stroke-width="3.0" stroke-linejoin="round"/><path d="M511.30,329.00 L672.52,329.00 L696.67,347.80 L672.52,366.60 L511.30,366.60 Z" fill="none" stroke="#86C1B0" stroke-width="1"/><path d="M512.40,330.10 L672.87,330.10 L694.77,347.80 L672.87,365.50 L512.40,365.50 Z" fill="none" stroke="#7DBB6A" stroke-width="1.2"/><text x="112" y="406" font-size="17" fill="#fff" text-anchor="middle">JSL</text><text x="441" y="408" font-size="18" fill="#fff" text-anchor="middle" letter-spacing="0.6">正常日本人班级上课</text><text x="597.5" y="353.5" font-size="17" fill="#fff" text-anchor="middle" letter-spacing="1.2">JSL(留学生班)</text><g transform="translate(375,276.8) rotate(-30.5)" opacity="0.10"><text x="0" y="28" font-size="79" letter-spacing="-3.2" fill="#000" text-anchor="middle" font-weight="300">非会员水印</text></g></svg><div class="notes" style="position:absolute;left:207px;top:437px;font-size:17px;line-height:22.6px;letter-spacing:1.35px;color:#000;white-space:nowrap"><span style="letter-spacing:1.25px">※根据日语水平，学习成绩等有机会提早进入日本人班级。</span><br><span style="letter-spacing:1.4px">※<span style="letter-spacing:0">1</span>年と<span style="letter-spacing:0">1.5</span>年留学情况は为了更好的准备考大学，基本上一直</span><br>　学生在班级上课。</div><svg width="740" height="555" style="position:absolute;left:0;top:0"><defs><linearGradient id="btl2" gradientUnits="userSpaceOnUse" x1="0" y1="490" x2="271" y2="555"><stop offset="0" stop-color="#12708E"/><stop offset="0.45" stop-color="#5ABDDB"/><stop offset="0.8" stop-color="#2D95B7"/><stop offset="1" stop-color="#1A7C9C"/></linearGradient><pattern id="stripes2" width="6" height="6" patternUnits="userSpaceOnUse" patternTransform="rotate(60)"><rect width="3" height="6" fill="rgba(255,255,255,0.06)"/></pattern></defs><rect x="0" y="468.5" width="275" height="86.5" fill="#000"/><path d="M0,468.5 L271,555 L0,555 Z" fill="url(#btl2)"/><path d="M0,468.5 L271,555 L0,555 Z" fill="url(#stripes2)"/><path d="M0,468.5 L271,555" stroke="#9ED2E4" stroke-width="0.8" opacity="0.7"/></svg></body></html>
